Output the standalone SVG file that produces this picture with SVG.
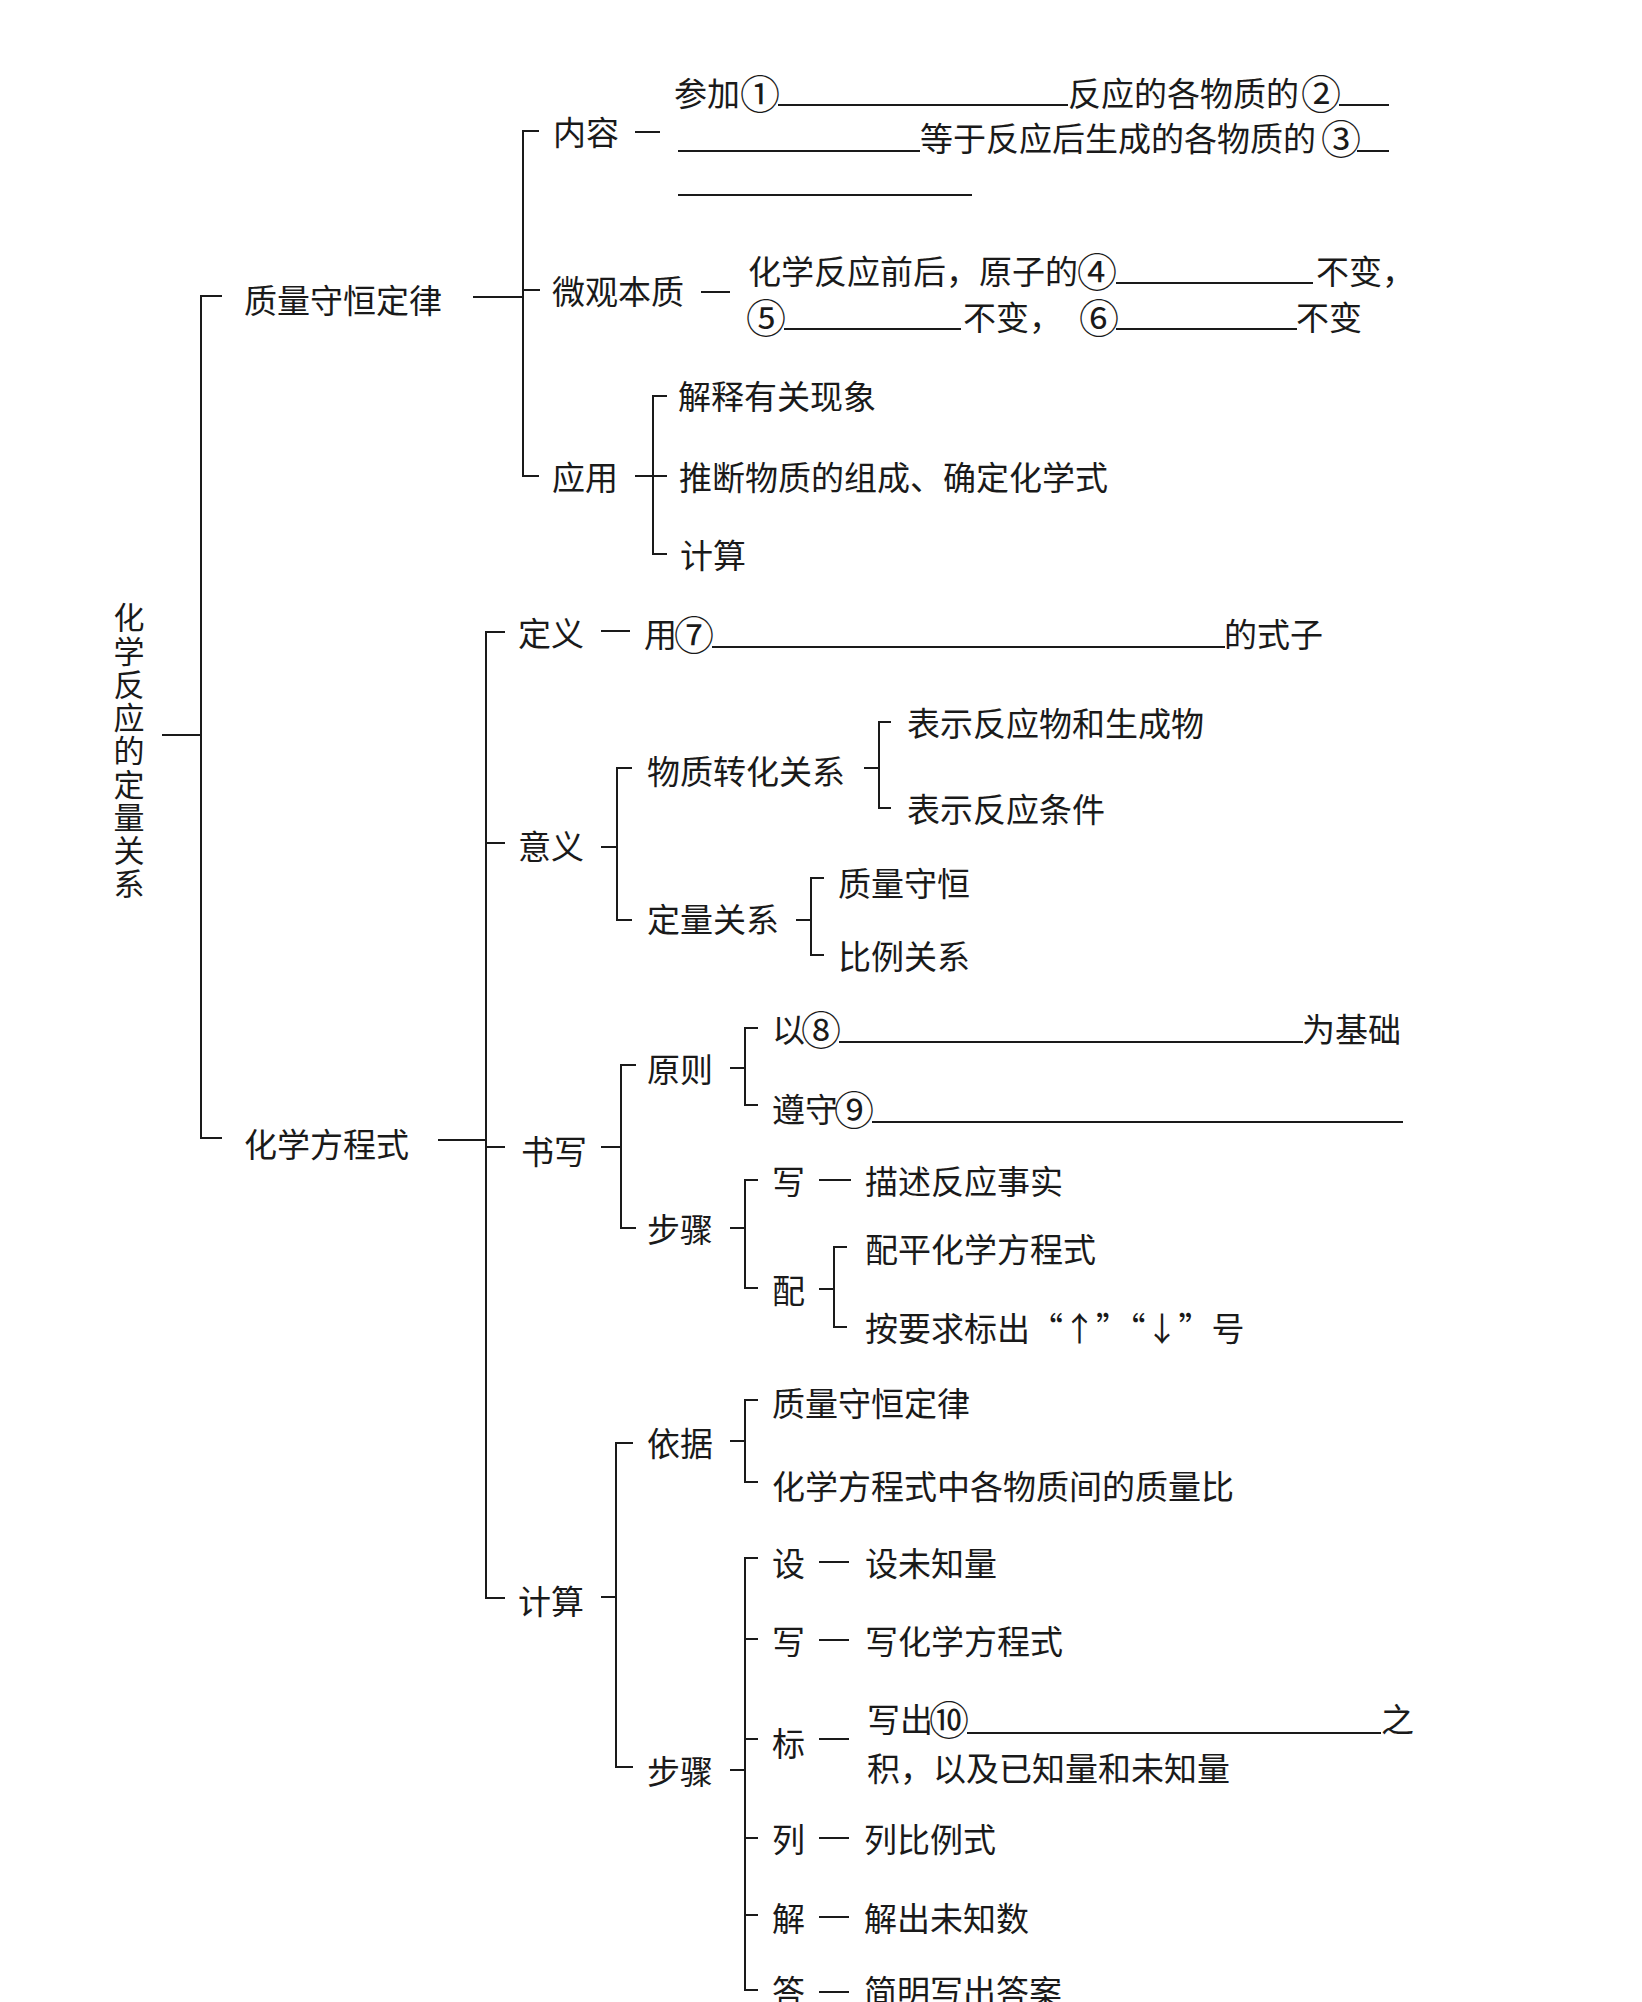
<svg xmlns="http://www.w3.org/2000/svg" width="1642" height="2002" viewBox="0 0 1642 2002">
<style>
.t{font-family:"Noto Sans CJK SC","Noto Sans",sans-serif;font-size:33px;fill:#1a1a1a;dominant-baseline:central}
.n{font-family:"Noto Sans CJK SC","Noto Sans",sans-serif;font-size:40px;fill:#1a1a1a;dominant-baseline:central;text-anchor:middle}
.r{font-family:"Noto Sans CJK SC","Noto Sans",sans-serif;font-size:31px;fill:#1a1a1a;writing-mode:vertical-rl;letter-spacing:2.25px}
.c{stroke:#1a1a1a;stroke-width:2;fill:none}
.u{stroke:#1a1a1a;stroke-width:2}
</style>
<rect width="1642" height="2002" fill="#ffffff"/>
<g id="connectors" class="c">
<path d="M162 735H201"/>
<path d="M222 296H201V1138H222"/>
<path d="M473 297H523"/>
<path d="M539 131H523V476H539"/>
<path d="M523 290H540"/>
<path d="M635 132H660"/>
<path d="M701 292H730"/>
<path d="M635 476H667"/>
<path d="M667 396H653V554H667"/>
<path d="M438 1140H486"/>
<path d="M505 632H486V1598H505"/>
<path d="M486 843H505"/>
<path d="M486 1147H505"/>
<path d="M601 631H630"/>
<path d="M601 847H617"/>
<path d="M632 768H617V920H632"/>
<path d="M864 768H879"/>
<path d="M891 722H879V808H891"/>
<path d="M796 920H811"/>
<path d="M824 878H811V955H824"/>
<path d="M601 1147H621"/>
<path d="M636 1065H621V1228H636"/>
<path d="M730 1068H745"/>
<path d="M758 1028H745V1105H758"/>
<path d="M730 1228H745"/>
<path d="M758 1180H745V1288H758"/>
<path d="M819 1180H851"/>
<path d="M819 1289H834"/>
<path d="M847 1247H834V1327H847"/>
<path d="M601 1597H616"/>
<path d="M633 1443H616V1767H633"/>
<path d="M730 1441H745"/>
<path d="M758 1400H745V1482H758"/>
<path d="M730 1770H745"/>
<path d="M758 1558H745V1990H758"/>
<path d="M745 1639H758M745 1739H758M745 1838H758M745 1915H758"/>
<path d="M819 1562H849M819 1640H849M819 1739H849M819 1838H849M819 1917H849M819 1992H849"/>
</g>
<g id="root">
<text class="r" x="129" y="602">化学反应的定量关系</text>
</g>
<g id="n-zlshdl"><text class="t" x="244" y="299">质量守恒定律</text></g>
<g id="n-neirong"><text class="t" x="553" y="131">内容</text></g>
<g id="n-neirong-text">
<text class="t" x="674" y="92">参加</text>
<text class="n" x="760" y="92">①</text>
<line class="u" x1="778" y1="105" x2="1068" y2="105"/>
<text class="t" x="1068" y="92">反应的各物质的</text>
<text class="n" x="1321" y="92">②</text>
<line class="u" x1="1339" y1="105" x2="1389" y2="105"/>
<line class="u" x1="678" y1="151" x2="920" y2="151"/>
<text class="t" x="920" y="137">等于反应后生成的各物质的</text>
<text class="n" x="1341" y="137">③</text>
<line class="u" x1="1357" y1="151" x2="1389" y2="151"/>
<line class="u" x1="678" y1="195" x2="972" y2="195"/>
</g>
<g id="n-weiguan"><text class="t" x="552" y="290">微观本质</text></g>
<g id="n-weiguan-text">
<text class="t" x="748" y="270">化学反应前后，原子的</text>
<text class="n" x="1097" y="270">④</text>
<line class="u" x1="1116" y1="283" x2="1313" y2="283"/>
<text class="t" x="1316" y="270">不变，</text>
<text class="n" x="766" y="316">⑤</text>
<line class="u" x1="784" y1="329" x2="961" y2="329"/>
<text class="t" x="963" y="316">不变，</text>
<text class="n" x="1099" y="316">⑥</text>
<line class="u" x1="1116" y1="329" x2="1297" y2="329"/>
<text class="t" x="1296" y="316">不变</text>
</g>
<g id="n-yingyong"><text class="t" x="552" y="476">应用</text></g>
<g id="n-jieshi"><text class="t" x="678" y="395">解释有关现象</text></g>
<g id="n-tuiduan"><text class="t" x="679" y="476">推断物质的组成、确定化学式</text></g>
<g id="n-jisuan1"><text class="t" x="680" y="554">计算</text></g>
<g id="n-hxfcs"><text class="t" x="244" y="1143">化学方程式</text></g>
<g id="n-dingyi"><text class="t" x="518" y="632">定义</text></g>
<g id="n-dingyi-text">
<text class="t" x="644" y="633">用</text>
<text class="n" x="694" y="633">⑦</text>
<line class="u" x1="712" y1="647" x2="1225" y2="647"/>
<text class="t" x="1224" y="633">的式子</text>
</g>
<g id="n-yiyi"><text class="t" x="518" y="845">意义</text></g>
<g id="n-wzzh"><text class="t" x="647" y="770">物质转化关系</text></g>
<g id="n-bsfy1"><text class="t" x="907" y="722">表示反应物和生成物</text></g>
<g id="n-bsfy2"><text class="t" x="907" y="808">表示反应条件</text></g>
<g id="n-dlgx"><text class="t" x="647" y="918">定量关系</text></g>
<g id="n-zlsh"><text class="t" x="838" y="882">质量守恒</text></g>
<g id="n-blgx"><text class="t" x="838" y="955">比例关系</text></g>
<g id="n-shuxie"><text class="t" x="521" y="1150">书写</text></g>
<g id="n-yuanze"><text class="t" x="647" y="1068">原则</text></g>
<g id="n-yuanze1">
<text class="t" x="772" y="1028">以</text>
<text class="n" x="821" y="1028">⑧</text>
<line class="u" x1="839" y1="1042" x2="1303" y2="1042"/>
<text class="t" x="1302" y="1028">为基础</text>
</g>
<g id="n-yuanze2">
<text class="t" x="772" y="1108">遵守</text>
<text class="n" x="854" y="1108">⑨</text>
<line class="u" x1="872" y1="1122" x2="1403" y2="1122"/>
</g>
<g id="n-buzhou1"><text class="t" x="647" y="1228">步骤</text></g>
<g id="n-xie1"><text class="t" x="772" y="1180">写</text><text class="t" x="865" y="1180">描述反应事实</text></g>
<g id="n-pei"><text class="t" x="772" y="1289">配</text></g>
<g id="n-pei1"><text class="t" x="865" y="1248">配平化学方程式</text></g>
<g id="n-pei2"><text class="t" x="865" y="1327">按要求标出“↑”“↓”号</text></g>
<g id="n-jisuan"><text class="t" x="518" y="1600">计算</text></g>
<g id="n-yiju"><text class="t" x="647" y="1442">依据</text></g>
<g id="n-yiju1"><text class="t" x="772" y="1402">质量守恒定律</text></g>
<g id="n-yiju2"><text class="t" x="772" y="1485">化学方程式中各物质间的质量比</text></g>
<g id="n-buzhou2"><text class="t" x="647" y="1770">步骤</text></g>
<g id="n-she"><text class="t" x="772" y="1562">设</text><text class="t" x="865" y="1562">设未知量</text></g>
<g id="n-xie2"><text class="t" x="772" y="1640">写</text><text class="t" x="865" y="1640">写化学方程式</text></g>
<g id="n-biao">
<text class="t" x="772" y="1742">标</text>
<text class="t" x="867" y="1718">写出</text>
<text class="n" x="949" y="1718">⑩</text>
<line class="u" x1="967" y1="1733" x2="1381" y2="1733"/>
<text class="t" x="1381" y="1718">之</text>
<text class="t" x="867" y="1767">积，以及已知量和未知量</text>
</g>
<g id="n-lie"><text class="t" x="772" y="1838">列</text><text class="t" x="864" y="1838">列比例式</text></g>
<g id="n-jie"><text class="t" x="772" y="1917">解</text><text class="t" x="864" y="1917">解出未知数</text></g>
<g id="n-da"><text class="t" x="772" y="1990">答</text><text class="t" x="864" y="1990">简明写出答案</text></g>
</svg>
